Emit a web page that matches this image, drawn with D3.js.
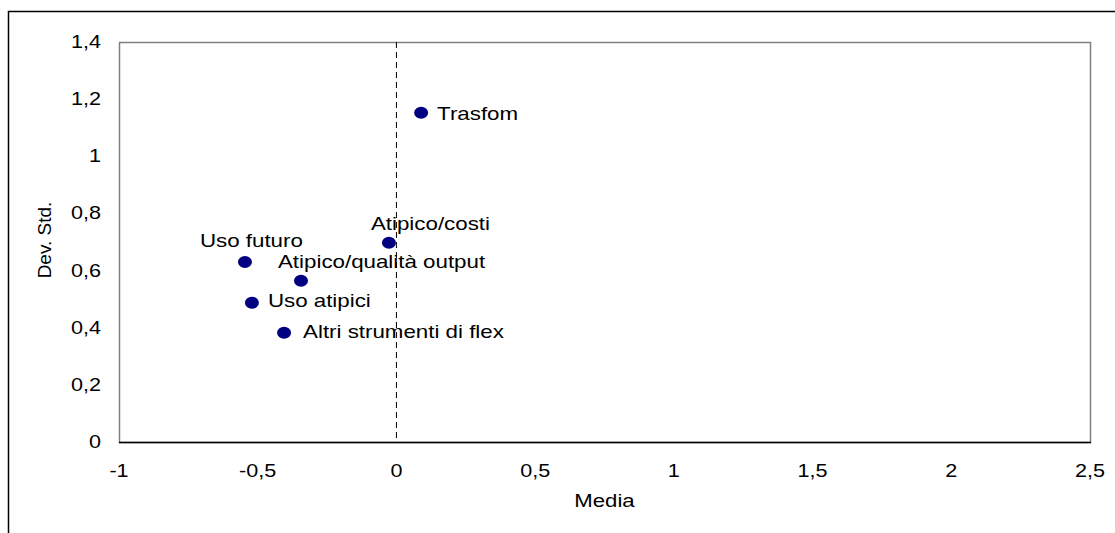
<!DOCTYPE html>
<html>
<head>
<meta charset="utf-8">
<script src="https://cdn.jsdelivr.net/npm/d3@7"></script>
<style>
  body { margin: 0; background: #fff; }
  text { font-family: "Liberation Sans", Arial, sans-serif; fill: #000; }
</style>
</head>
<body>
<svg width="1115" height="533"></svg>
<script>
// data
var names = ["Trasfom", "Atipico/costi", "Uso futuro", "Atipico/qualità output", "Uso atipici", "Altri strumenti di flex"];
var media = [0.089, -0.027, -0.546, -0.344, -0.521, -0.405];
var devStd = [1.152, 0.697, 0.630, 0.564, 0.487, 0.382];
var xTicks = [-1, -0.5, 0, 0.5, 1, 1.5, 2, 2.5];
var yTicks = [0, 0.2, 0.4, 0.6, 0.8, 1, 1.2, 1.4];

// label placement relative to its point (dx to text start, dy to baseline)
var labelOffset = [[16, 7], [-18, -13], [-45, -15], [-23, -13], [16, 4], [19, 5]];

var svg = d3.select("svg");
const plotLeft = 119, plotRight = 1090, plotTop = 42, plotBottom = 442;
const sx = 1.2; // text in the original is stretched horizontally

var x = d3.scaleLinear().domain([-1, 2.5]).range([plotLeft, plotRight]);
var y = d3.scaleLinear().domain([0, 1.4]).range([plotBottom, plotTop]);

var comma = function (v) { return String(v).replace(".", ","); };

// outer frame (right and bottom edges fall outside the picture)
svg.append("path")
  .attr("d", "M8.5,540 V11.5 H1120")
  .attr("fill", "none")
  .attr("stroke", "#000")
  .attr("stroke-width", 1.5);

// plot area border
svg.append("rect")
  .attr("x", plotLeft + 0.5).attr("y", plotTop + 0.5)
  .attr("width", plotRight - plotLeft).attr("height", plotBottom - plotTop)
  .attr("fill", "none")
  .attr("stroke", "#808080")
  .attr("stroke-width", 1.5);

// x axis line
svg.append("line")
  .attr("x1", plotLeft).attr("x2", plotRight + 1)
  .attr("y1", plotBottom + 0.5).attr("y2", plotBottom + 0.5)
  .attr("stroke", "#000")
  .attr("stroke-width", 1.5);

// dashed line at zero
svg.append("line")
  .attr("x1", x(0)).attr("x2", x(0))
  .attr("y1", y(1.4)).attr("y2", y(0))
  .attr("stroke", "#000")
  .attr("stroke-width", 1)
  .attr("stroke-dasharray", "6,4");

// x tick labels
svg.append("g").selectAll("g")
  .data(xTicks)
  .join("g")
  .attr("transform", (d) => "translate(" + x(d) + ",477) scale(" + sx + ",1)")
  .append("text")
  .attr("text-anchor", "middle")
  .attr("font-size", 18)
  .text(comma);

// y tick labels
svg.append("g").selectAll("g")
  .data(yTicks)
  .join("g")
  .attr("transform", (d) => "translate(101," + (y(d) + 6) + ") scale(" + sx + ",1)")
  .append("text")
  .attr("text-anchor", "end")
  .attr("font-size", 18)
  .text(comma);

// axis titles
svg.append("g")
  .attr("transform", "translate(" + (plotLeft + plotRight) / 2 + ",507) scale(" + sx + ",1)")
  .append("text")
  .attr("text-anchor", "middle")
  .attr("font-size", 18.5)
  .text("Media");

svg.append("text")
  .attr("transform", "translate(51,240) rotate(-90)")
  .attr("text-anchor", "middle")
  .attr("font-size", 19)
  .text("Dev. Std.");

// points
var idx = d3.range(names.length);
svg.append("g").selectAll("ellipse")
  .data(idx)
  .join("ellipse")
  .attr("cx", (i) => x(media[i]))
  .attr("cy", (i) => y(devStd[i]))
  .attr("rx", 7)
  .attr("ry", 6)
  .attr("fill", "#000080");

// point labels
svg.append("g").selectAll("g")
  .data(idx)
  .join("g")
  .attr("transform", (i) => "translate(" + (x(media[i]) + labelOffset[i][0]) + "," +
    (y(devStd[i]) + labelOffset[i][1]) + ") scale(" + sx + ",1)")
  .append("text")
  .attr("font-size", 18.6)
  .text((i) => names[i]);
</script>
</body>
</html>
